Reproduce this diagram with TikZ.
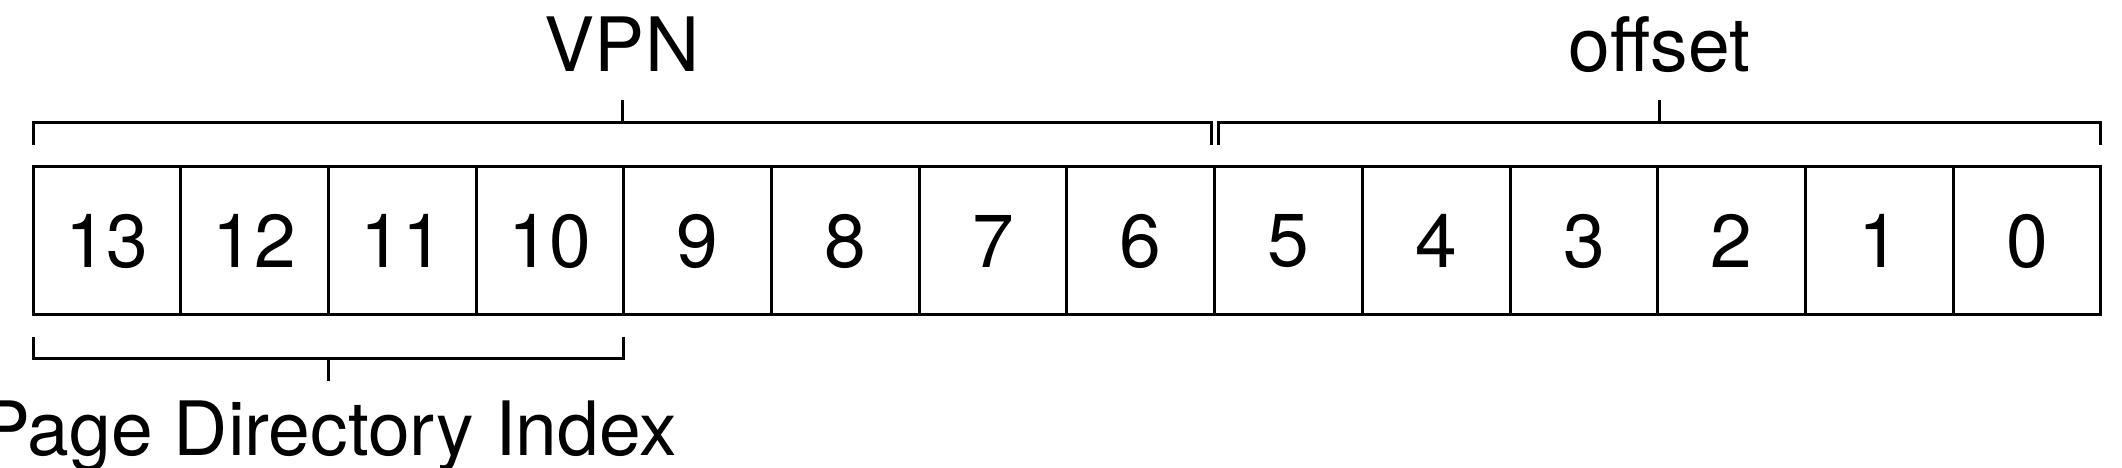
\documentclass[tikz,border=0pt]{standalone}
\usepackage{fontspec}
\setmainfont{TeX Gyre Heros}
\usetikzlibrary{positioning}

\begin{document}
\begin{tikzpicture}[x=1pt,y=1pt,line width=3pt,
      every node/.style={font=\fontsize{75}{90}\selectfont},
      bitcell/.style={draw,minimum width=147.7pt,minimum height=148pt,inner sep=0pt,outer sep=0pt},
      brace/.style={line width=3pt,line join=miter}]
    \useasboundingbox (0,0) rectangle (2122,468);
    % address bits, 13 down to 0
    \node[bitcell] (b13) at (106.85,227) {13};
    \foreach \i [evaluate=\i as \j using int(\i+1)] in {12,11,...,0}
      \node[bitcell,right=0pt of b\j] (b\i) {\i};
    % VPN and offset brackets
    \draw[brace] ([yshift=22pt]b13.north west) -- ++(0,22) -| coordinate[pos=.25] (vpnmid) ([xshift=-3.5pt,yshift=22pt]b6.north east);
    \draw[brace] (vpnmid) -- ++(0,23) coordinate (vpntop);
    \node[anchor=base] (vpn) at ([yshift=28pt]vpntop) {VPN};
    \draw[brace] ([xshift=3.5pt,yshift=22pt]b5.north west) -- ++(0,22) -| coordinate[pos=.25] (offmid) ([yshift=22pt]b0.north east);
    \draw[brace] (offmid) -- ++(0,23) coordinate (offtop);
    \node[anchor=base] (off) at ([yshift=28pt]offtop) {offset};
    % page directory bracket
    \draw[brace] ([yshift=-22pt]b13.south west) -- ++(0,-22) -| coordinate[pos=.25] (pdimid) ([yshift=-22pt]b10.south east);
    \draw[brace] (pdimid) -- ++(0,-22) coordinate (pdibot);
    \node[anchor=base] (pdi) at ([yshift=-75pt]pdibot) {Page Directory Index};
\end{tikzpicture}
\end{document}
